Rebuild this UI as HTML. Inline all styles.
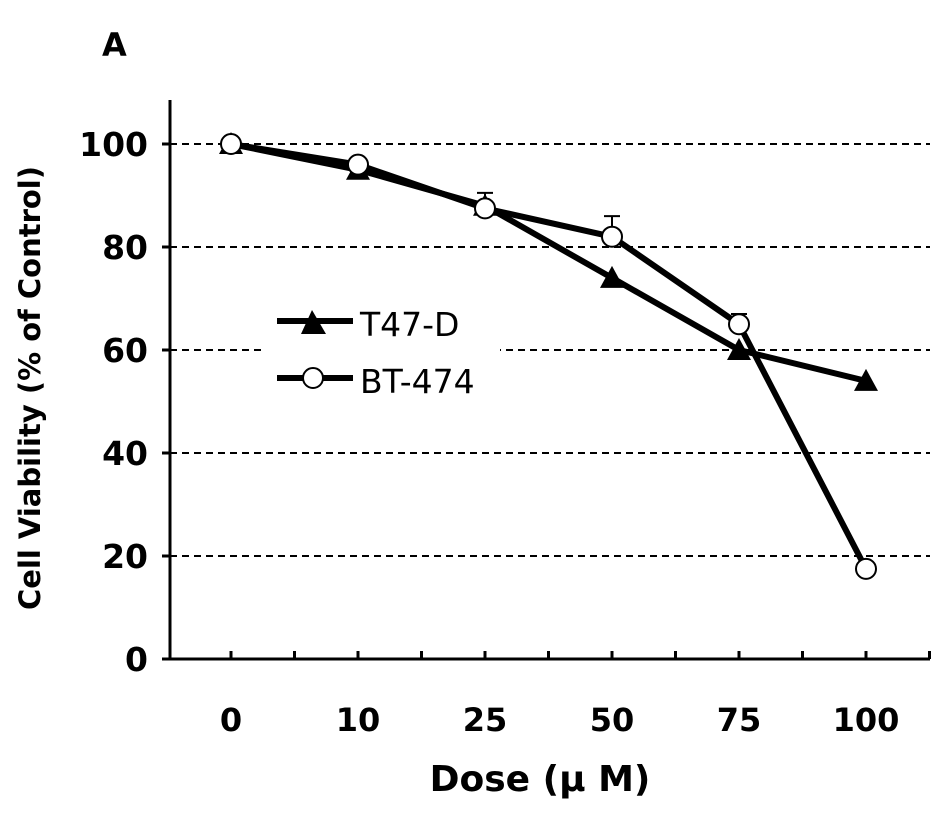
<!DOCTYPE html>
<html><head><meta charset="utf-8"><style>
html,body{margin:0;padding:0;background:#fff;}
svg{display:block;font-family:"DejaVu Sans","Liberation Sans",sans-serif;font-weight:bold;}
</style></head><body>
<svg id="chart" width="945" height="817" viewBox="0 0 945 817">
<text x="102" y="56" font-size="32">A</text>
<g id="grid"></g>
<g id="axes"></g>
<g id="series"></g>
<g>
<rect x="266" y="302" width="234" height="92" fill="#fff"/>
<g>
<line x1="277" y1="321" x2="353" y2="321" stroke="#000" stroke-width="6"/>
<polygon points="312,310 301,334 326,334" fill="#000"/>
<text x="360" y="336" font-size="33" font-weight="normal" font-family="DejaVu Sans, sans-serif">T47-D</text>
</g>
<g>
<line x1="277" y1="378" x2="353" y2="378" stroke="#000" stroke-width="6"/>
<circle cx="313" cy="378" r="10" fill="#fff" stroke="#000" stroke-width="2"/>
<text x="360" y="393" font-size="33" font-weight="normal" font-family="DejaVu Sans, sans-serif">BT-474</text>
</g>
</g>
<text x="540" y="791" font-size="36" text-anchor="middle">Dose (μ M)</text>
<text transform="translate(40,388) rotate(-90)" font-size="29" text-anchor="middle">Cell Viability (% of Control)</text>
</svg>
<script>
const categories = ["0","10","25","50","75","100"];
const t47d = [100, 95, 88, 74, 60, 54];
const bt474 = [100, 96, 87.5, 82, 65, 17.5];
const bt474Err = [0, 0, 3, 4, 2, 0];
const t47dErr = [0, 0, 0, 0, 0, 0];
const yTicks = [0, 20, 40, 60, 80, 100];

const NS = "http://www.w3.org/2000/svg";
const x0 = 231, xStep = 127, axisX = 170, y0 = 659, yScale = 5.15;
const xs = i => x0 + i * xStep;
const ys = v => y0 - v * yScale;
function mk(tag, attrs, parent){const e=document.createElementNS(NS,tag);for(const k in attrs)e.setAttribute(k,attrs[k]);parent.appendChild(e);return e;}
const grid=document.getElementById('grid'), axes=document.getElementById('axes'), series=document.getElementById('series');

yTicks.forEach(v=>{
  if(v>0){
    const gl=mk('line',{x1:axisX,x2:930,y1:ys(v),y2:ys(v),stroke:'#000','stroke-width':2,'stroke-dasharray':'7,5'},grid);
    
    
  }
  const t=mk('text',{x:148,y:ys(v)+12,'font-size':33,'text-anchor':'end'},axes);
  t.textContent=v;
  
  
  const tk=mk('line',{x1:axisX-8,x2:axisX,y1:ys(v),y2:ys(v),stroke:'#000','stroke-width':3},axes);
  
  
});
const ya=mk('line',{x1:axisX,x2:axisX,y1:100,y2:y0+1.5,stroke:'#000','stroke-width':3},axes);


const xa=mk('line',{x1:axisX,x2:930,y1:y0,y2:y0,stroke:'#000','stroke-width':3},axes);


for(let k=0;k<=categories.length*2-1;k++){
  const xx=x0+k*xStep/2;
  if(xx>930) break;
  const tk=mk('line',{x1:xx,x2:xx,y1:y0-8,y2:y0,stroke:'#000','stroke-width':3},axes);
  
  
}
categories.forEach((c,i)=>{
  const t=mk('text',{x:xs(i),y:731,'font-size':32,'text-anchor':'middle'},axes);
  t.textContent=c;
  
  
});

function drawSeries(vals, errs, name, marker){
  const g=mk('g',{},series);
  
  
  vals.forEach((v,i)=>{
    if(errs[i]>0){
      const e=mk('path',{d:`M${xs(i)},${ys(v)} V${ys(v+errs[i])} M${xs(i)-8},${ys(v+errs[i])} H${xs(i)+8}`,stroke:'#000','stroke-width':2,fill:'none'},g);
      
      
    }
  });
  const pl=mk('polyline',{points:vals.map((v,i)=>xs(i)+','+ys(v)).join(' '),fill:'none',stroke:'#000','stroke-width':6,'stroke-linejoin':'round'},g);
  
  
  vals.forEach((v,i)=>{
    let m;
    if(marker==='tri'){
      const cx=xs(i), cy=ys(v);
      m=mk('polygon',{points:`${cx},${cy-12} ${cx-12},${cy+10} ${cx+12},${cy+10}`,fill:'#000'},g);
    } else {
      m=mk('circle',{cx:xs(i),cy:ys(v),r:10,fill:'#fff',stroke:'#000','stroke-width':2},g);
    }
    
    
  });
}
drawSeries(t47d, t47dErr, 't47d', 'tri');
drawSeries(bt474, bt474Err, 'bt474', 'circle');
</script>
</body></html>
